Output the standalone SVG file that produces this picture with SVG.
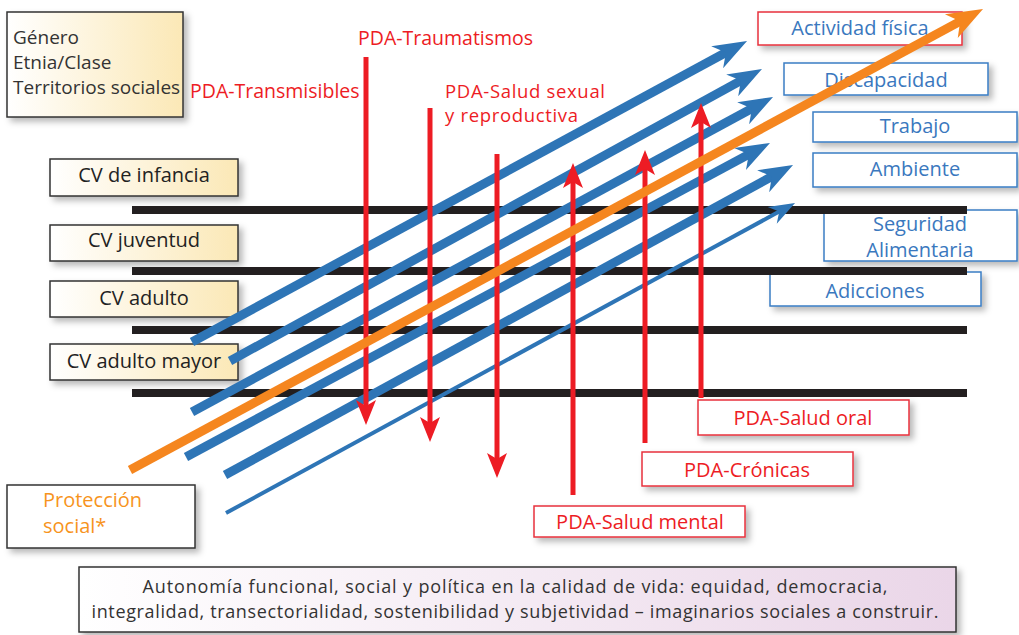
<svg xmlns="http://www.w3.org/2000/svg" width="1019" height="635" viewBox="0 0 1019 635">
<style>
text{font-family:"Open Sans","Liberation Sans",sans-serif;}
.dk{fill:#333;font-size:19px;}
.cv{fill:#222;font-size:20px;text-anchor:middle;}
.rd{fill:#ED1C24;font-size:19.5px;}
.rds{fill:#ED1C24;font-size:18.5px;}
.rdc{fill:#ED1C24;font-size:20px;text-anchor:middle;}
.bl{fill:#3A78BE;font-size:20px;text-anchor:middle;}
.or{fill:#F7941D;font-size:20px;}
.bt{fill:#333;font-size:18px;text-anchor:middle;}
.bxY{fill:url(#gY);stroke:#333;stroke-width:1.5;filter:url(#sh);}
.bxR{fill:#fff;stroke:#E8323C;stroke-width:1.5;filter:url(#sh);}
.bxB{fill:#fff;stroke:#3A7DC4;stroke-width:1.5;filter:url(#sh);}
.bxW{fill:#fff;stroke:#333;stroke-width:1.5;filter:url(#sh);}
.bar{fill:#231F20;}
.ra{stroke:#ED1C24;stroke-width:5;fill:none;marker-end:url(#mR);}
.ba{stroke:#2E75B6;stroke-width:9;fill:none;marker-end:url(#mB);}
.bthin{stroke:#2E75B6;stroke-width:4;fill:none;marker-end:url(#mBs);}
.oa{stroke:#F5861F;stroke-width:9;fill:none;marker-end:url(#mO);}
</style>
<defs>
<linearGradient id="gY" x1="0" y1="0" x2="1" y2="0"><stop offset="0" stop-color="#FFFFFF"/><stop offset="1" stop-color="#FBE8B6"/></linearGradient>
<linearGradient id="gP" x1="0" y1="0" x2="1" y2="0"><stop offset="0" stop-color="#FFFFFF"/><stop offset="1" stop-color="#EAD6E8"/></linearGradient>
<filter id="sh" x="-10%" y="-20%" width="130%" height="160%"><feDropShadow dx="4" dy="4" stdDeviation="3" flood-color="#000" flood-opacity="0.28"/></filter>
<marker id="mB" markerUnits="userSpaceOnUse" viewBox="0 -13 34 26" markerWidth="34" markerHeight="26" refX="12" refY="0" orient="auto" overflow="visible"><path d="M0,-12.5 L34,0 L0,12.5 L10,0 Z" fill="#2E75B6"/></marker>
<marker id="mBs" markerUnits="userSpaceOnUse" viewBox="0 -10 26 20" markerWidth="26" markerHeight="20" refX="9" refY="0" orient="auto" overflow="visible"><path d="M0,-9.5 L26,0 L0,9.5 L8,0 Z" fill="#2E75B6"/></marker>
<marker id="mO" markerUnits="userSpaceOnUse" viewBox="0 -14 36 28" markerWidth="36" markerHeight="28" refX="12" refY="0" orient="auto" overflow="visible"><path d="M0,-13.5 L36,0 L0,13.5 L10,0 Z" fill="#F5861F"/></marker>
<marker id="mR" markerUnits="userSpaceOnUse" viewBox="0 -10 25 20" markerWidth="25" markerHeight="20" refX="7" refY="0" orient="auto" overflow="visible"><path d="M0,-10 L25,0 L0,10 L6,0 Z" fill="#ED1C24"/></marker>
</defs>
<rect width="1019" height="635" fill="#fff"/>

<g id="n-determinantes"><rect class="bxY" x="7" y="12" width="176" height="105"/>
<text class="dk" x="13" y="44">Género</text><text class="dk" x="13" y="69">Etnia/Clase</text><text class="dk" x="13" y="94">Territorios sociales</text></g>

<g id="n-cv-infancia"><rect class="bxY" x="50" y="159" width="188" height="37"/><text class="cv" x="144" y="182">CV de infancia</text></g>
<g id="n-cv-juventud"><rect class="bxY" x="50" y="225" width="188" height="36"/><text class="cv" x="144" y="247">CV juventud</text></g>
<g id="n-cv-adulto"><rect class="bxY" x="50" y="281" width="188" height="36"/><text class="cv" x="144" y="305">CV adulto</text></g>
<g id="n-cv-adulto-mayor"><rect class="bxY" x="50" y="344" width="188" height="36"/><text class="cv" x="144" y="368">CV adulto mayor</text></g>

<g id="n-actividad"><rect class="bxR" x="758" y="12" width="204" height="33"/><text class="bl" x="860" y="35">Actividad física</text></g>
<g id="n-discapacidad"><rect class="bxB" x="784" y="63" width="204" height="32"/><text class="bl" x="886" y="87">Discapacidad</text></g>
<g id="n-trabajo"><rect class="bxB" x="813" y="112" width="204" height="30"/><text class="bl" x="915" y="133">Trabajo</text></g>
<g id="n-ambiente"><rect class="bxB" x="813" y="153" width="204" height="34"/><text class="bl" x="915" y="176">Ambiente</text></g>
<g id="n-seguridad"><rect class="bxB" x="824" y="210" width="193" height="51"/><text class="bl" x="920" y="231">Seguridad</text><text class="bl" x="920" y="257">Alimentaria</text></g>
<g id="n-adicciones"><rect class="bxB" x="770" y="272" width="211" height="34"/><text class="bl" x="875" y="298">Adicciones</text></g>

<g id="n-salud-oral"><rect class="bxR" x="698" y="400" width="211" height="35"/><text class="rdc" x="803" y="425">PDA-Salud oral</text></g>
<g id="n-cronicas"><rect class="bxR" x="642" y="452" width="211" height="34"/><text class="rdc" x="747" y="477">PDA-Crónicas</text></g>
<g id="n-salud-mental"><rect class="bxR" x="534" y="506" width="211" height="31"/><text class="rdc" x="640" y="529">PDA-Salud mental</text></g>

<g id="n-proteccion"><rect class="bxW" x="7" y="485" width="188" height="63"/><text class="or" x="43" y="507">Protección</text><text class="or" x="43" y="533">social*</text></g>

<g id="n-autonomia"><rect x="79" y="567" width="877" height="65" fill="url(#gP)" stroke="#333" stroke-width="1.5" filter="url(#sh)"/>
<text class="bt" x="515" y="593" textLength="745">Autonomía funcional, social y política en la calidad de vida: equidad, democracia,</text>
<text class="bt" x="515" y="618" textLength="847">integralidad, transectorialidad, sostenibilidad y subjetividad – imaginarios sociales a construir.</text></g>

<g id="n-pda-labels">
<text class="rd" x="358" y="45">PDA-Traumatismos</text>
<text class="rd" x="190" y="98">PDA-Transmisibles</text>
<text class="rds" x="445" y="98" textLength="160">PDA-Salud sexual</text>
<text class="rds" x="445" y="122" textLength="133">y reproductiva</text>
</g>

<g id="bars">
<rect class="bar" x="132" y="206" width="835" height="8"/>
<rect class="bar" x="132" y="267" width="835" height="8"/>
<rect class="bar" x="132" y="326" width="835" height="8"/>
<rect class="bar" x="132" y="389" width="835" height="8"/>
</g>

<g id="connectors">
<path class="ba" d="M192,342 L727.7,51.5"/>
<path class="ba" d="M230,361 L742.7,79.6"/>
<path class="ba" d="M192,412 L753.7,107.5"/>
<path class="ba" d="M186,457 L750.6,153.4"/>
<path class="ba" d="M225,475 L773.7,175.5"/>
<path class="bthin" d="M226,513 L780.1,211.1"/>
<path class="ra" d="M366,57 L366,407"/>
<path class="ra" d="M430,108 L430,424"/>
<path class="ra" d="M497,154 L497,460"/>
<path class="ra" d="M573,495 L573,181"/>
<path class="ra" d="M645,443 L645,168"/>
<path class="ra" d="M701,398 L701,121"/>
<path class="oa" d="M130,470 L961.9,20.4"/>
</g>
</svg>
